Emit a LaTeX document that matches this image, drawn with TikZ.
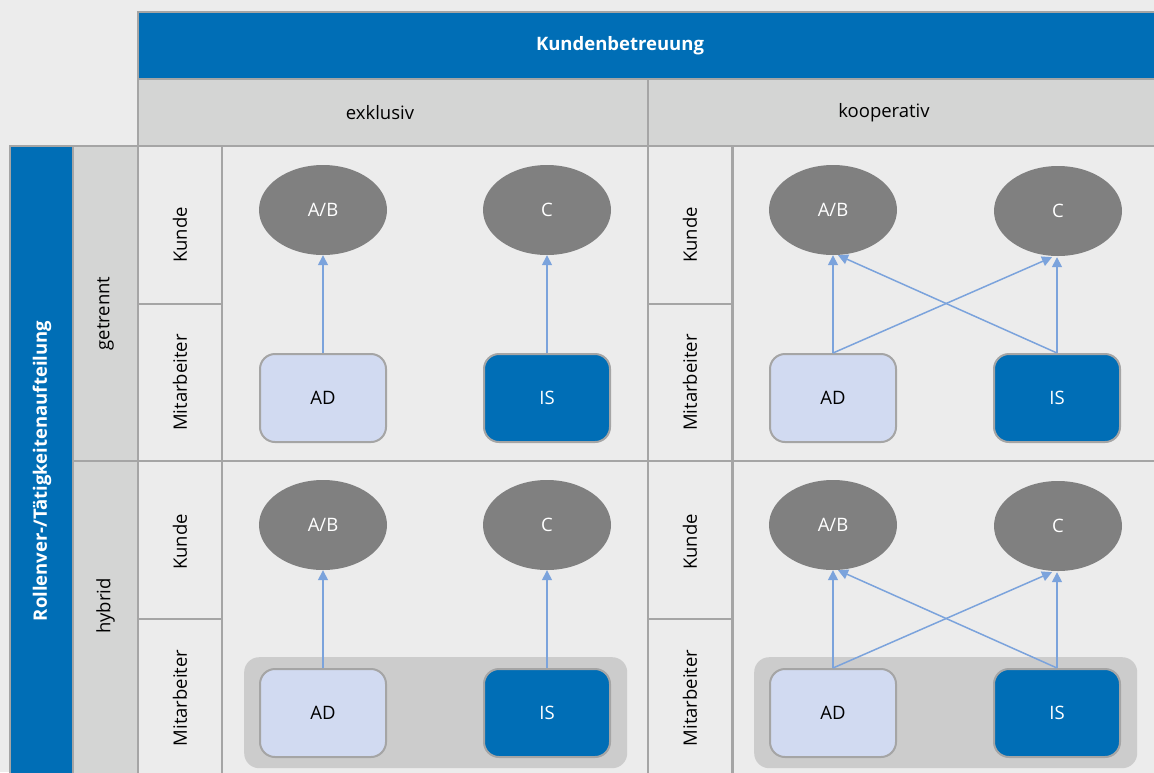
\documentclass[tikz,border=0pt]{standalone}
\usepackage{fontspec}
\setmainfont{Open Sans}
\usetikzlibrary{arrows.meta,calc,shapes.geometric}
\definecolor{bg}{HTML}{ECECEC}
\definecolor{hdr}{HTML}{D4D5D4}
\definecolor{bord}{HTML}{A5A5A5}
\definecolor{mainblue}{HTML}{006EB6}
\definecolor{custgray}{HTML}{808080}
\definecolor{adfill}{HTML}{D1DAF1}
\definecolor{grpfill}{HTML}{CCCCCC}
\definecolor{arr}{HTML}{7BA3DC}
\tikzset{
  cellbox/.style={draw=bord, line width=2pt, anchor=north west, inner sep=0pt, outer sep=0pt},
  bluecell/.style={cellbox, fill=mainblue},
  hdrcell/.style={cellbox, fill=hdr},
  bgcell/.style={cellbox, fill=bg},
  lbl/.style={font=\fontsize{18.5}{20}\selectfont, inner sep=0pt},
  vlbl/.style={lbl, rotate=90},
  wlbl/.style={font=\fontsize{18.5}{20}\selectfont\bfseries, text=white, inner sep=0pt},
  cust/.style={ellipse, fill=custgray, minimum width=128pt, minimum height=90pt, inner sep=0pt, text=white, font=\fontsize{18.5}{20}\selectfont},
  emp/.style={rectangle, rounded corners=15pt, draw=bord, line width=2pt, minimum width=126pt, minimum height=88pt, inner sep=0pt, font=\fontsize{18.5}{20}\selectfont},
  adbox/.style={emp, fill=adfill},
  isbox/.style={emp, fill=mainblue, text=white},
  grp/.style={rectangle, rounded corners=15pt, fill=grpfill, inner sep=0pt, anchor=north west},
  link/.style={draw=arr, line width=1.5pt, -{Triangle[length=10pt,width=10pt]}},
}
\begin{document}
\begin{tikzpicture}[x=1pt,y=-1pt]
\path[use as bounding box, fill=bg] (0,0) rectangle (1154,772);
\clip (0,0) rectangle (1154,772);
% top header
\node[bluecell, minimum width=1030pt, minimum height=67pt] (top) at (138,12) {};
\node[wlbl] at (620,45.5) (toptxt) {Kundenbetreuung};
\node[hdrcell, minimum width=510pt, minimum height=67pt] (exk) at (138,79) {};
\node[hdrcell, minimum width=520pt, minimum height=67pt] (koo) at (648,79) {};
\node[lbl] at (380,112.5) {exklusiv};
\node[lbl] at (884,112.5) {kooperativ};
% left
\node[bluecell, minimum width=63pt, minimum height=640pt] (left) at (10,146) {};
\node[wlbl, rotate=90] at (42,471) {Rollenver-/Tätigkeitenaufteilung};
\node[hdrcell, minimum width=65pt, minimum height=315pt] (getr) at (73,146) {};
\node[hdrcell, minimum width=65pt, minimum height=325pt] (hyb) at (73,461) {};
\node[vlbl] at ($(getr.center)+(0,10)$) {getrennt};
\node[vlbl] at (105.5,606) {hybrid};
% label cells and content cells
\foreach \c/\x in {e/138,k/648}{
  \node[bgcell, minimum width=84pt, minimum height=158pt] (\c k1) at (\x,146) {};
  \node[bgcell, minimum width=84pt, minimum height=157pt] (\c m1) at (\x,304) {};
  \node[bgcell, minimum width=84pt, minimum height=158pt] (\c k2) at (\x,461) {};
  \node[bgcell, minimum width=84pt, minimum height=170pt] (\c m2) at (\x,619) {};
  \node[vlbl] at ($(\c k1.center)+(0,10)$) {Kunde};
  \node[vlbl] at (\c m1.center) {Mitarbeiter};
  \node[vlbl] at ($(\c k2.center)+(0,2)$) {Kunde};
  \node[vlbl] at (\x+42,698) {Mitarbeiter};
}
\node[bgcell, minimum width=426pt, minimum height=315pt] (ec1) at (222,146) {};
\node[bgcell, minimum width=426pt, minimum height=330pt] (ec2) at (222,461) {};
\node[bgcell, minimum width=430pt, minimum height=315pt] (kc1) at (733,146) {};
\node[bgcell, minimum width=430pt, minimum height=330pt] (kc2) at (733,461) {};
% groups
\node[grp, minimum width=383pt, minimum height=111pt] (g1) at (244,657) {};
\node[grp, minimum width=383pt, minimum height=111pt] (g2) at (754,657) {};
% exklusiv getrennt
\node[cust] (ab1) at (323,210) {A/B};
\node[cust] (c1) at (547,210) {C};
\node[adbox] (ad1) at (323,398) {AD};
\node[isbox] (is1) at (547,398) {IS};
\draw[link] (ad1) -- (ab1);
\draw[link] (is1) -- (c1);
% kooperativ getrennt
\node[cust] (ab2) at (833,210) {A/B};
\node[cust] (c2) at (1058,211) {C};
\node[adbox] (ad2) at (833,398) {AD};
\node[isbox] (is2) at (1057,398) {IS};
\draw[link] (ad2.north) -- (ab2.south);
\draw[link] (ad2.north) -- ($(c2.south)+(-6,1)$);
\draw[link] (is2.north) -- ($(c2.south)+(-1,1)$);
\draw[link] (is2.north) -- ($(ab2.south)+(5,0)$);
% exklusiv hybrid
\node[cust] (ab3) at (323,525) {A/B};
\node[cust] (c3) at (547,525) {C};
\node[adbox] (ad3) at (323,713) {AD};
\node[isbox] (is3) at (547,713) {IS};
\draw[link] (ad3) -- (ab3);
\draw[link] (is3) -- (c3);
% kooperativ hybrid
\node[cust] (ab4) at (833,525) {A/B};
\node[cust] (c4) at (1058,526) {C};
\node[adbox] (ad4) at (833,713) {AD};
\node[isbox] (is4) at (1057,713) {IS};
\draw[link] (ad4.north) -- (ab4.south);
\draw[link] (ad4.north) -- ($(c4.south)+(-6,1)$);
\draw[link] (is4.north) -- ($(c4.south)+(-1,1)$);
\draw[link] (is4.north) -- ($(ab4.south)+(5,0)$);
\end{tikzpicture}
\end{document}
